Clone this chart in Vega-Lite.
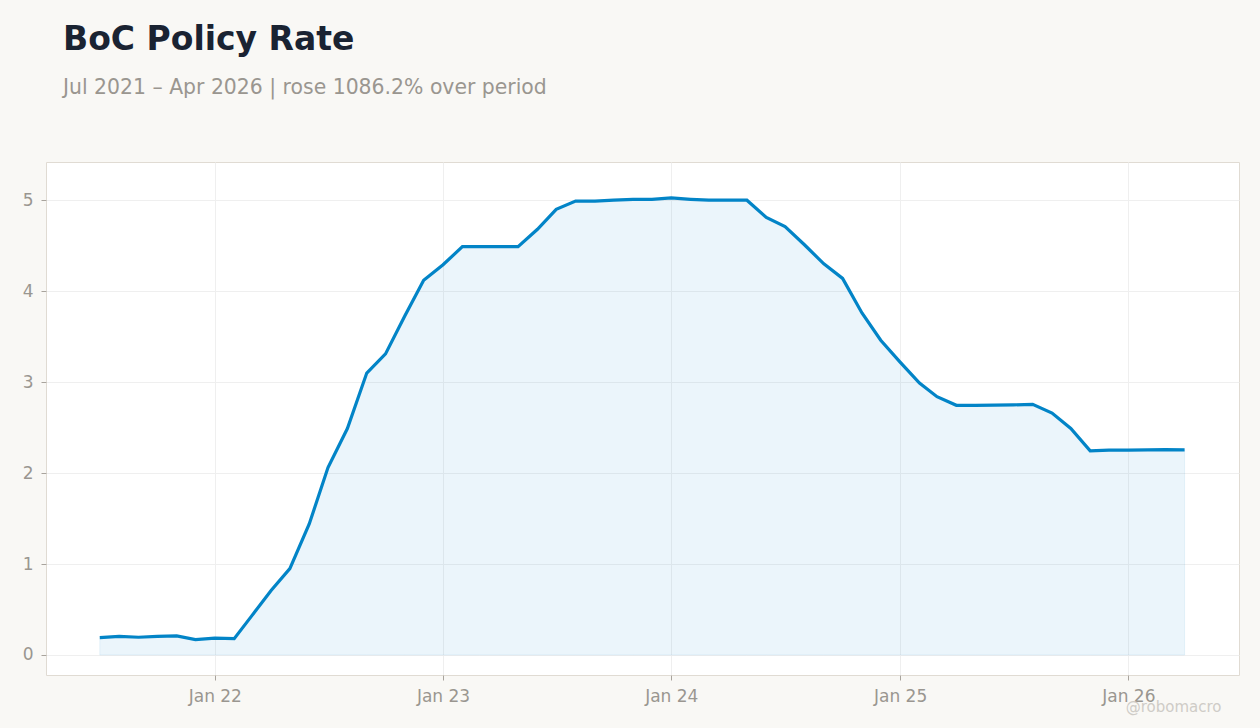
{
  "$schema": "https://vega.github.io/schema/vega-lite/v6.json",
  "width": 1193,
  "height": 513,
  "autosize": {"type": "none"},
  "padding": {"left": 46, "top": 162, "right": 21, "bottom": 53},
  "background": "#f9f8f5",
  "title": {
    "text": "BoC Policy Rate",
    "subtitle": "Jul 2021 – Apr 2026 | rose 1086.2% over period",
    "anchor": "start",
    "frame": "group",
    "dx": 17,
    "offset": 64,
    "font": "DejaVu Sans",
    "fontSize": 33,
    "fontWeight": "bold",
    "color": "#1a2332",
    "subtitleFont": "DejaVu Sans",
    "subtitleFontSize": 20.4,
    "subtitleColor": "#9a9690",
    "subtitlePadding": 21
  },
  "config": {
    "view": {"fill": "#ffffff", "stroke": "#e0dbd3"},
    "axis": {
      "labelFont": "DejaVu Sans",
      "labelFontSize": 17,
      "labelColor": "#9a9690",
      "gridColor": "#efefef",
      "domain": false,
      "tickColor": "#a8a39c",
      "tickSize": 5
    }
  },
  "data": {
    "values": [
      {"date": "2021-07-01", "rate": 0.19},
      {"date": "2021-08-01", "rate": 0.205},
      {"date": "2021-09-01", "rate": 0.195},
      {"date": "2021-10-01", "rate": 0.205},
      {"date": "2021-11-01", "rate": 0.21},
      {"date": "2021-12-01", "rate": 0.17},
      {"date": "2022-01-01", "rate": 0.185},
      {"date": "2022-02-01", "rate": 0.18},
      {"date": "2022-03-01", "rate": 0.43},
      {"date": "2022-04-01", "rate": 0.71},
      {"date": "2022-05-01", "rate": 0.95},
      {"date": "2022-06-01", "rate": 1.44},
      {"date": "2022-07-01", "rate": 2.06},
      {"date": "2022-08-01", "rate": 2.49},
      {"date": "2022-09-01", "rate": 3.1},
      {"date": "2022-10-01", "rate": 3.31},
      {"date": "2022-11-01", "rate": 3.73},
      {"date": "2022-12-01", "rate": 4.12},
      {"date": "2023-01-01", "rate": 4.29},
      {"date": "2023-02-01", "rate": 4.49},
      {"date": "2023-03-01", "rate": 4.49},
      {"date": "2023-04-01", "rate": 4.49},
      {"date": "2023-05-01", "rate": 4.49},
      {"date": "2023-06-01", "rate": 4.68},
      {"date": "2023-07-01", "rate": 4.9},
      {"date": "2023-08-01", "rate": 4.99},
      {"date": "2023-09-01", "rate": 4.99},
      {"date": "2023-10-01", "rate": 5.0},
      {"date": "2023-11-01", "rate": 5.01},
      {"date": "2023-12-01", "rate": 5.01},
      {"date": "2024-01-01", "rate": 5.025},
      {"date": "2024-02-01", "rate": 5.01},
      {"date": "2024-03-01", "rate": 5.0},
      {"date": "2024-04-01", "rate": 5.0},
      {"date": "2024-05-01", "rate": 5.0},
      {"date": "2024-06-01", "rate": 4.81},
      {"date": "2024-07-01", "rate": 4.71},
      {"date": "2024-08-01", "rate": 4.51},
      {"date": "2024-09-01", "rate": 4.3},
      {"date": "2024-10-01", "rate": 4.14},
      {"date": "2024-11-01", "rate": 3.76},
      {"date": "2024-12-01", "rate": 3.46},
      {"date": "2025-01-01", "rate": 3.22},
      {"date": "2025-02-01", "rate": 2.99},
      {"date": "2025-03-01", "rate": 2.84},
      {"date": "2025-04-01", "rate": 2.745},
      {"date": "2025-05-01", "rate": 2.745},
      {"date": "2025-06-01", "rate": 2.747},
      {"date": "2025-07-01", "rate": 2.75},
      {"date": "2025-08-01", "rate": 2.755},
      {"date": "2025-09-01", "rate": 2.66},
      {"date": "2025-10-01", "rate": 2.49},
      {"date": "2025-11-01", "rate": 2.245},
      {"date": "2025-12-01", "rate": 2.253},
      {"date": "2026-01-01", "rate": 2.253},
      {"date": "2026-02-01", "rate": 2.256},
      {"date": "2026-03-01", "rate": 2.258},
      {"date": "2026-04-01", "rate": 2.254}
    ]
  },
  "encoding": {
    "x": {
      "field": "date",
      "type": "temporal",
      "scale": {
        "type": "utc",
        "domain": [1617667200000, 1782518400000]
      },
      "axis": {
        "labelExpr": "utcFormat(datum.value, '%b %y')",
        "tickCount": {"interval": "year", "step": 1},
        "labelPadding": 8,
        "title": "@robomacro",
        "titleFont": "DejaVu Sans",
        "titleFontSize": 15,
        "titleFontWeight": "normal",
        "titleColor": "#cfccc7",
        "titleAnchor": "end",
        "titleAlign": "right",
        "titleX": 1175,
        "titleY": 24
      }
    },
    "y": {
      "field": "rate",
      "type": "quantitative",
      "scale": {"domain": [-0.22, 5.42], "nice": false, "zero": false},
      "axis": {"values": [0, 1, 2, 3, 4, 5], "title": null, "labelPadding": 8}
    }
  },
  "layer": [
    {
      "mark": {
        "type": "area",
        "color": "#0284c7",
        "fillOpacity": 0.08,
        "stroke": "#0284c7",
        "strokeOpacity": 0.08,
        "strokeWidth": 1
      }
    },
    {
      "mark": {"type": "line", "color": "#0284c7", "strokeWidth": 3.2}
    }
  ]
}
